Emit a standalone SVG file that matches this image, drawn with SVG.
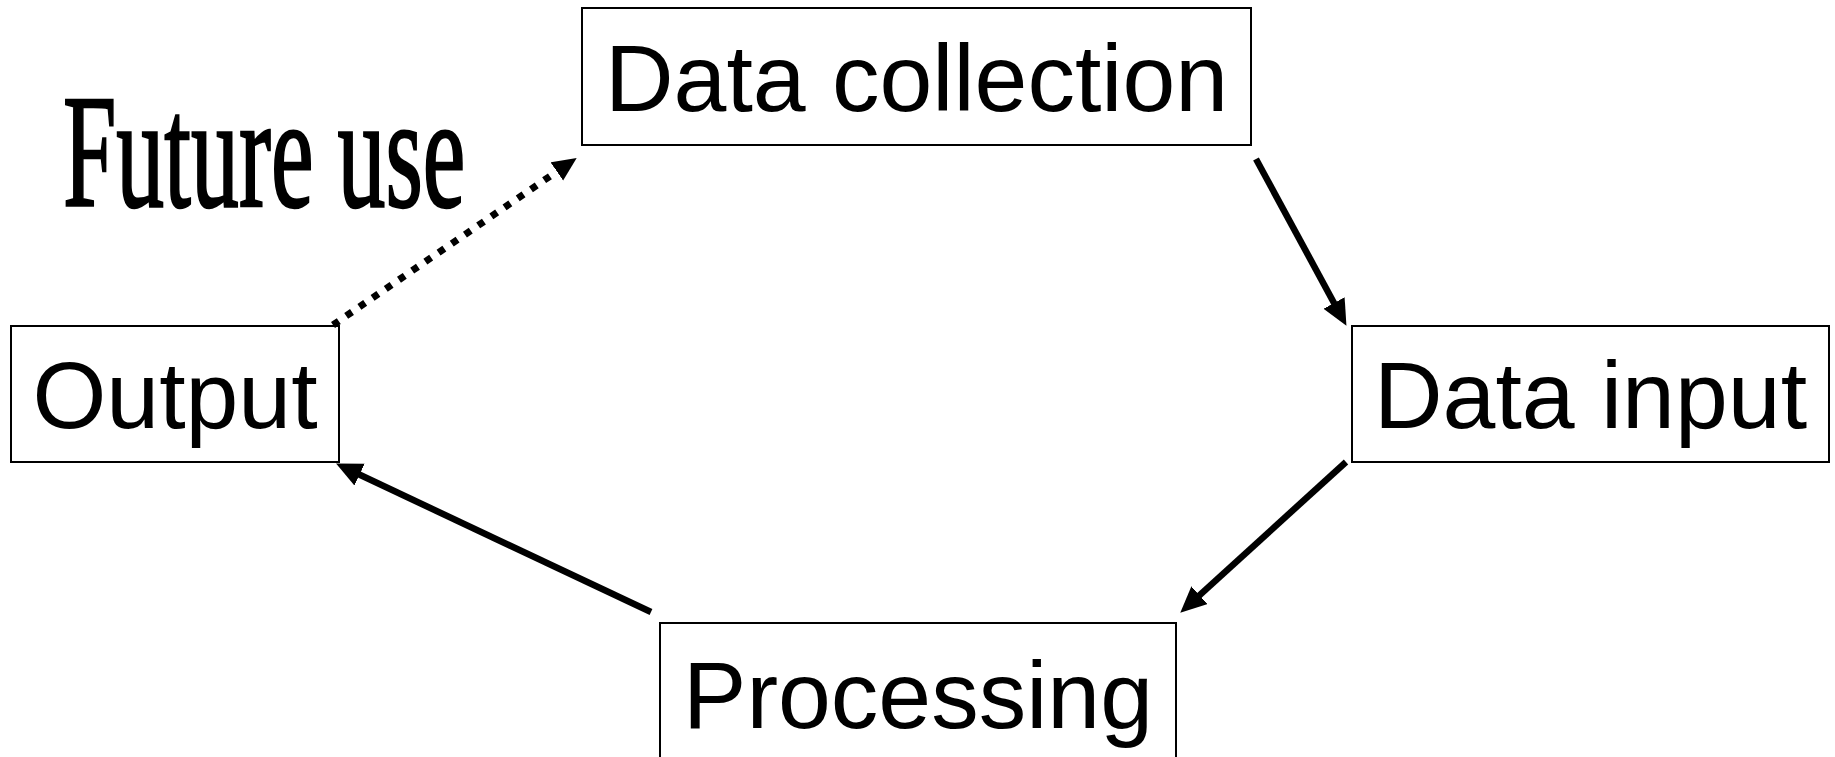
<svg xmlns="http://www.w3.org/2000/svg" width="1835" height="757" viewBox="0 0 1835 757">
  <style>
    .box { fill: #ffffff; stroke: #000000; stroke-width: 2; }
    .lbl { font-family: "Liberation Sans", Arial, sans-serif; font-size: 95px; fill: #000000; text-anchor: middle; }
    .edge { stroke: #000000; stroke-width: 6.5; fill: none; }
    .dotted { stroke: #000000; stroke-width: 7; fill: none; stroke-dasharray: 7 9; }
    .title { font-family: "Liberation Serif", "Times New Roman", serif; font-size: 161px; fill: #000000; stroke: #000000; stroke-width: 2.5; }
  </style>
  <defs>
    <marker id="arrow" markerUnits="userSpaceOnUse" markerWidth="28" markerHeight="26" refX="15" refY="12" orient="auto">
      <path d="M0,0 L26,12 L0,24 z" fill="#000000"/>
    </marker>
    <marker id="arrowDot" markerUnits="userSpaceOnUse" markerWidth="26" markerHeight="24" refX="12" refY="11" orient="auto">
      <path d="M0,0 L24,11 L0,22 z" fill="#000000"/>
    </marker>
  </defs>
  <rect width="1835" height="757" fill="#ffffff"/>

  <text class="title" transform="translate(63,206) scale(0.596,1)" x="0" y="0">Future use</text>

  <g id="node-data-collection">
    <rect class="box" x="582" y="8" width="669" height="137"/>
    <text class="lbl" x="916.5" y="111">Data collection</text>
  </g>
  <g id="node-data-input">
    <rect class="box" x="1352" y="326" width="477" height="136"/>
    <text class="lbl" x="1590.5" y="428">Data input</text>
  </g>
  <g id="node-processing">
    <rect class="box" x="660" y="623" width="516" height="150"/>
    <text class="lbl" x="918" y="728">Processing</text>
  </g>
  <g id="node-output">
    <rect class="box" x="11" y="326" width="328" height="136"/>
    <text class="lbl" x="175" y="428">Output</text>
  </g>

  <g id="connectors">
    <line class="edge" x1="1256" y1="159" x2="1341.2" y2="316.2" marker-end="url(#arrow)"/>
    <line class="edge" x1="1346" y1="462" x2="1188.4" y2="605.3" marker-end="url(#arrow)"/>
    <line class="edge" x1="651" y1="612" x2="346" y2="468.3" marker-end="url(#arrow)"/>
    <line class="dotted" x1="333" y1="325" x2="566.8" y2="164.7" marker-end="url(#arrowDot)"/>
  </g>
</svg>
